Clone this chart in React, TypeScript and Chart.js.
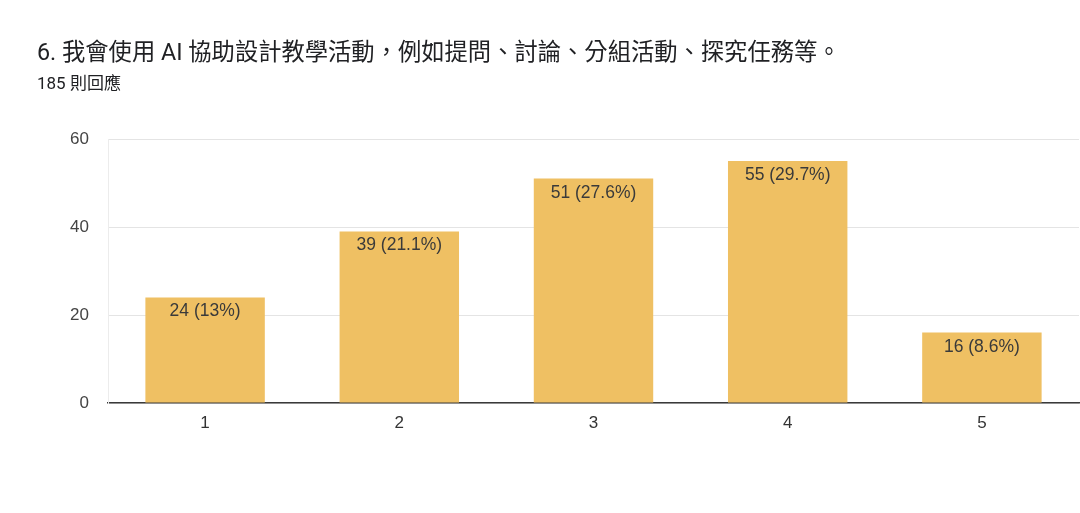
import React, { useEffect, useRef } from "react";
import { Chart, registerables } from "chart.js";

Chart.register(...registerables);

const TITLE = "6. 我會使用 AI 協助設計教學活動，例如提問、討論、分組活動、探究任務等。";
const SUBTITLE = "185 則回應";
const categories = ["1", "2", "3", "4", "5"];
const counts = [24, 39, 51, 55, 16];
const barLabels = ["24 (13%)", "39 (21.1%)", "51 (27.6%)", "55 (29.7%)", "16 (8.6%)"];
const yMax = 60;
const yStep = 10;

const FONT = "Roboto, 'Noto Sans CJK TC', sans-serif";
const CHART_FONT = "'Liberation Sans', Arial, sans-serif";

const barLabelPlugin = {
  id: "barLabelPlugin",
  afterDatasetsDraw(chart: any) {
    const ctx = chart.ctx;
    const meta = chart.getDatasetMeta(0);
    ctx.save();
    ctx.font = "17.5px " + CHART_FONT;
    ctx.fillStyle = "#3a3a3a";
    ctx.textAlign = "center";
    ctx.textBaseline = "alphabetic";
    meta.data.forEach((el: any, i: number) => {
      ctx.fillText(barLabels[i], el.x, el.y + 19);
    });
    ctx.restore();
  },
};

export default function App() {
  const ref = useRef<HTMLCanvasElement | null>(null);
  useEffect(() => {
    if (!ref.current) return;
    const chart = new Chart(ref.current, {
      type: "bar",
      data: {
        labels: categories,
        datasets: [
          {
            data: counts,
            backgroundColor: "#efc063",
            borderWidth: 0,
            barPercentage: 0.615,
            categoryPercentage: 1,
          },
        ],
      },
      options: {
        animation: false,
        responsive: false,
        maintainAspectRatio: false,
        layout: { padding: { top: 139, bottom: 80, left: 0, right: 1 } },
        plugins: { legend: { display: false }, tooltip: { enabled: false } },
        scales: {
          x: {
            grid: { display: false, drawTicks: false },
            border: { display: true, color: "#3a3a3a", width: 1.4 },
            ticks: { color: "#333", font: { family: CHART_FONT, size: 17 }, padding: 10 },
            afterFit: (s: any) => {
              s.height = 30;
            },
          },
          y: {
            min: 0,
            max: yMax,
            grid: {
              drawTicks: false,
              color: (c: any) => (c.tick && c.tick.value % 20 === 0 ? "#e4e4e4" : "#f2f2f2"),
              lineWidth: 1,
            },
            border: { display: true, color: "#ececec", width: 1 },
            ticks: {
              stepSize: yStep,
              color: "#444",
              font: { family: CHART_FONT, size: 17 },
              padding: 19,
              callback: (v: any) => (Number(v) % 20 === 0 ? String(v) : null),
            },
            afterFit: (s: any) => {
              s.width = 108;
            },
          },
        },
      },
      plugins: [barLabelPlugin],
    });
    return () => chart.destroy();
  }, []);

  return (
    <div style={{ position: "absolute", left: 0, top: 0, width: 1080, height: 513, background: "#fff", overflow: "hidden" }}>
      <canvas ref={ref} width={1080} height={513} style={{ position: "absolute", left: 0, top: 0, width: 1080, height: 513 }} />
      <div style={{ position: "absolute", left: 37, top: 37, fontFamily: FONT, fontSize: 23.3, color: "#202124", whiteSpace: "nowrap", lineHeight: "30px" }}>
        {TITLE}
      </div>
      <div style={{ position: "absolute", left: 37, top: 73, fontFamily: FONT, fontSize: 17, color: "#202124", whiteSpace: "nowrap", lineHeight: "20px" }}>
        {SUBTITLE}
      </div>
    </div>
  );
}
